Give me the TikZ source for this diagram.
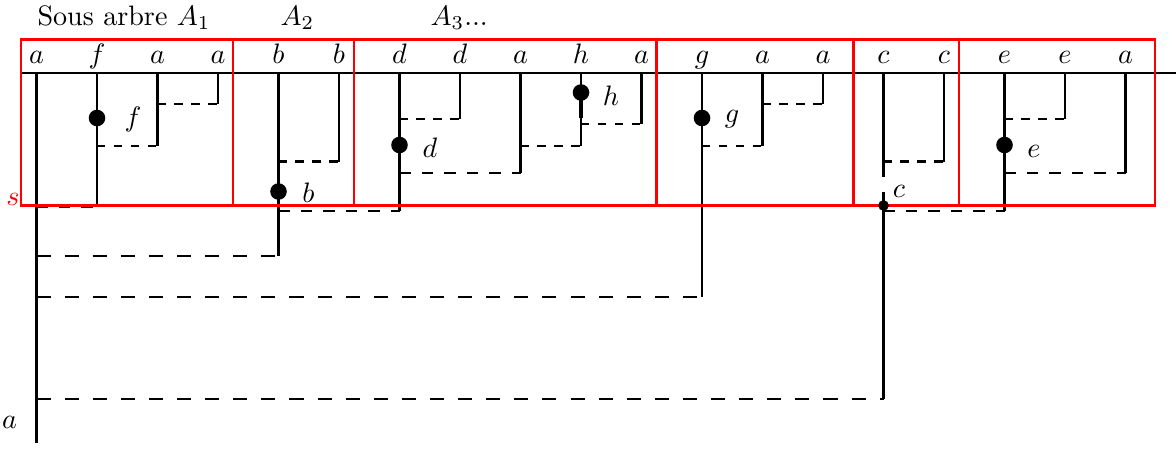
\documentclass[tikz,border=0pt]{standalone}
\begin{document}
\begin{tikzpicture}[x=0.3558pt,y=-0.3558pt,
  tree/.style={line width=0.8pt},
  link/.style={line width=0.8pt, dash pattern=on 3pt off 3pt},
  midlink/.style={line width=0.8pt, dash pattern=on 4pt off 4pt},
  longlink/.style={line width=0.8pt, dash pattern=on 5pt off 5pt},
  frame/.style={red, line width=0.75pt},
  dot/.style={circle, fill=black, inner sep=0pt, minimum size=5.9pt},
  smalldot/.style={circle, fill=black, inner sep=0pt, minimum size=3.8pt},
  lab/.style={anchor=base, inner sep=0pt},
]
\useasboundingbox (0,0) rectangle (1176,449);

% leaves and their labels
\foreach \i/\t in {0/a,1/f,2/a,3/a,4/b,5/b,6/d,7/d,8/a,9/h,10/a,11/g,12/a,13/a,14/c,15/c,16/e,17/e,18/a} {
  \coordinate (L\i) at ({36.5+60.5*\i},73);
  \node[lab] (T\i) at ({36.5+60.5*\i},63.5) {$\t$};
}

% titles
\node[lab, anchor=base west] (A1) at (37,25) {Sous arbre $A_1$};
\node[lab] (A2) at (297.5,25) {$A_2$};
\node[lab, anchor=base west] (A3) at (430,25) {$A_3$...};
\node[lab, red] (s) at (13,205.5) {$s$};
\node[lab] (aroot) at (9.5,428) {$a$};

% horizontal base line
\coordinate (HL) at (21,73);
\coordinate (HR) at (1176,73);
\draw[tree] (HL) -- (HR);

% vertical tree lines
\draw[tree] (L0) -- (L0 |- 0,443);
\draw[tree] (L1) -- (L1 |- 0,206);
\draw[tree] (L2) -- (L2 |- 0,146);
\draw[tree] (L3) -- (L3 |- 0,104);
\draw[tree] (L4) -- (L4 |- 0,256);
\draw[tree] (L5) -- (L5 |- 0,161.5);
\draw[tree] (L6) -- (L6 |- 0,211);
\draw[tree] (L7) -- (L7 |- 0,119);
\draw[tree] (L8) -- (L8 |- 0,173);
\draw[tree] (L9) -- (L9 |- 0,146);
\draw[line width=1.2pt] (L9 |- 0,92.5) -- (L9 |- 0,118);
\draw[tree] (L10) -- (L10 |- 0,124);
\draw[tree] (L11) -- (L11 |- 0,297);
\draw[tree] (L12) -- (L12 |- 0,146);
\draw[tree] (L13) -- (L13 |- 0,104);
\draw[tree] (L14) -- (L14 |- 0,177);
\draw[tree] (L14 |- 0,192) -- (L14 |- 0,399);
\draw[tree] (L15) -- (L15 |- 0,161.5);
\draw[tree] (L16) -- (L16 |- 0,211);
\draw[tree] (L17) -- (L17 |- 0,119);
\draw[tree] (L18) -- (L18 |- 0,173);

% dashed links
\draw[link] (L2 |- 0,104) -- (L3 |- 0,104);
\draw[link] (L1 |- 0,146) -- (L2 |- 0,146);
\draw[midlink] (L0 |- 0,207) -- (L1 |- 0,207);
\draw[link] (L4 |- 0,161.5) -- (L5 |- 0,161.5);
\draw[midlink] (L4 |- 0,211) -- (L6 |- 0,211);
\draw[longlink] (L0 |- 0,256) -- (L4 |- 0,256);
\draw[link] (L6 |- 0,119) -- (L7 |- 0,119);
\draw[midlink] (L6 |- 0,173) -- (L8 |- 0,173);
\draw[link] (L8 |- 0,146) -- (L9 |- 0,146);
\draw[link] (L9 |- 0,124) -- (L10 |- 0,124);
\draw[link] (L12 |- 0,104) -- (L13 |- 0,104);
\draw[link] (L11 |- 0,146) -- (L12 |- 0,146);
\draw[longlink] (L0 |- 0,297) -- (L11 |- 0,297);
\draw[link] (L14 |- 0,161.5) -- (L15 |- 0,161.5);
\draw[midlink] (L14 |- 0,211) -- (L16 |- 0,211);
\draw[longlink] (L0 |- 0,399) -- (L14 |- 0,399);
\draw[link] (L16 |- 0,119) -- (L17 |- 0,119);
\draw[midlink] (L16 |- 0,173) -- (L18 |- 0,173);

% red frame of the subtrees
\coordinate (F1) at (21,39.5);
\coordinate (F2) at (1155,205.5);
\draw[frame] (F1) rectangle (F2);
\foreach \x in {233,354,656.5,853.5,959} {
  \draw[frame] (\x,39.5) -- (\x,205.5);
}

% marked nodes
\node[dot] (Df) at (L1 |- 0,118) {};
\node[lab] (lf) at (133,126.7) {$f$};
\node[dot] (Db) at (L4 |- 0,191.5) {};
\node[lab] (lb) at (308.5,202) {$b$};
\node[dot] (Dd) at (L6 |- 0,145) {};
\node[lab] (ld) at (430,157) {$d$};
\node[dot] (Dh) at (L9 |- 0,92.5) {};
\node[lab] (lh) at (611,105) {$h$};
\node[dot] (Dg) at (L11 |- 0,118) {};
\node[lab] (lg) at (732,122.7) {$g$};
\node[dot] (De) at (L16 |- 0,145) {};
\node[lab] (le) at (1034,157) {$e$};
\node[smalldot] (Dc) at (L14 |- 0,205.5) {};
\node[lab] (lc) at (899,197) {$c$};
\end{tikzpicture}
\end{document}
